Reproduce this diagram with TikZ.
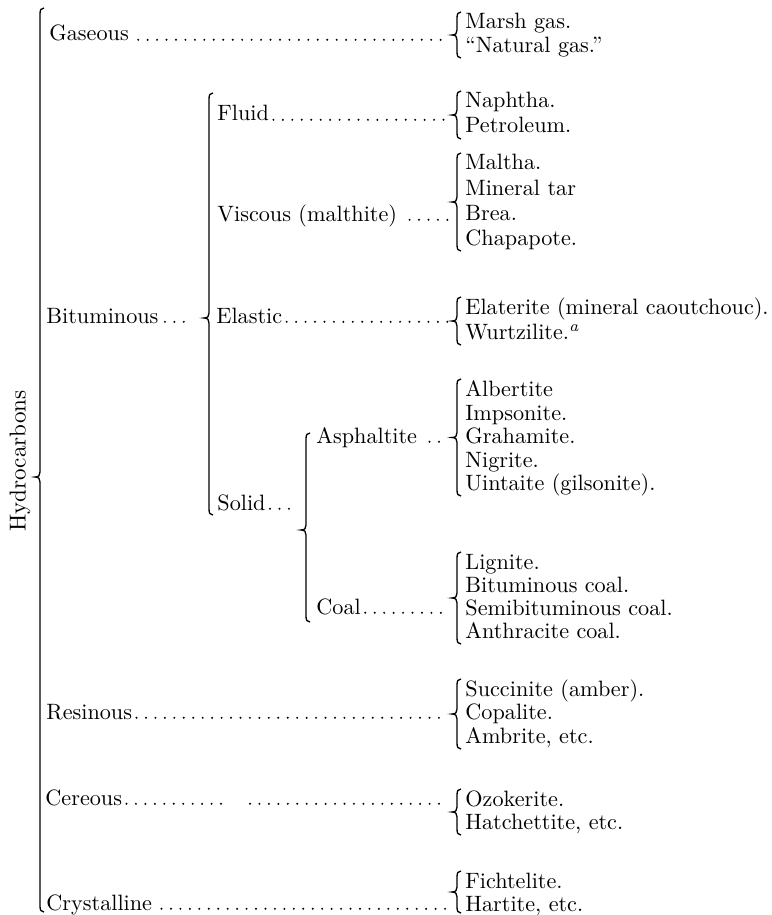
\documentclass[tikz,border=0pt]{standalone}
\usetikzlibrary{calc}
\newcommand\mybrace[5]{% name, x, top, tip, bottom
  \draw[brc] ({#2+4},#3) .. controls ({#2+1},#3) and (#2,{#3+2}) .. (#2,{#3+6})
    -- (#2,{#4-5}) .. controls (#2,{#4-2}) and ({#2-1},#4) .. ({#2-5},#4)
    .. controls ({#2-1},#4) and (#2,{#4+2}) .. (#2,{#4+5})
    -- (#2,{#5-6}) .. controls (#2,{#5-2}) and ({#2+1},#5) .. ({#2+4},#5);
  \coordinate (#1) at ({#2-5},#4);}
\newcommand\mylead[4]{% from node, to coordinate, start gap, end gap
  \draw[lead] ($(#1.base east)+(#3,-1.2)$) -- ($(#1.base east -| #2)+(-#4,-1.2)$);}
\begin{document}
\begin{tikzpicture}[x=0.455pt,y=-0.455pt,
  lbl/.style={anchor=base west,inner sep=0pt,font=\fontsize{10.1}{12}\selectfont},
  brc/.style={line width=0.6pt},
  lead/.style={line width=1.0pt,line cap=round,dash pattern=on 0pt off 4.3pt}]
\useasboundingbox (0,0) rectangle (771,915);
% left labels
\node[rotate=90,inner sep=0pt,font=\fontsize{10.5}{12}\selectfont] (hyd) at (20,461) {Hydrocarbons};
\node[lbl] (gas) at (49,41) {Gaseous};
\node[lbl] (flu) at (217,121) {Fluid};
\node[lbl] (vis) at (217,221) {Viscous (malthite)};
\node[lbl] (bit) at (46,323) {Bituminous};
\node[lbl] (ela) at (216,323) {Elastic};
\node[lbl] (asp) at (316,443) {Asphaltite};
\node[lbl] (sol) at (217,510) {Solid};
\node[lbl] (coa) at (316,614) {Coal};
\node[lbl] (res) at (46,719) {Resinous};
\node[lbl] (cer) at (45,805) {Cereous};
\node[lbl] (cry) at (46,910) {Crystalline};
% right column
\node[lbl] (m1) at (465,29) {Marsh gas.};
\node[lbl] (m2) at (465,52.5) {“Natural gas.”};
\node[lbl] (n1) at (465,108) {Naphtha.};
\node[lbl] (n2) at (465,132.5) {Petroleum.};
\node[lbl] (v1) at (465,170) {Maltha.};
\node[lbl] (v2) at (465,195) {Mineral tar};
\node[lbl] (v3) at (465,220) {Brea.};
\node[lbl] (v4) at (465,245) {Chapapote.};
\node[lbl] (e1) at (465,314) {Elaterite (mineral caoutchouc).};
\node[lbl] (e2) at (465,339) {Wurtzilite.\textsuperscript{\itshape a}};
\node[lbl] (a1) at (465,396) {Albertite};
\node[lbl] (a2) at (465,420) {Impsonite.};
\node[lbl] (a3) at (465,443) {Grahamite.};
\node[lbl] (a4) at (465,467) {Nigrite.};
\node[lbl] (a5) at (465,490) {Uintaite (gilsonite).};
\node[lbl] (c1) at (465,569) {Lignite.};
\node[lbl] (c2) at (465,592) {Bituminous coal.};
\node[lbl] (c3) at (465,615) {Semibituminous coal.};
\node[lbl] (c4) at (465,638) {Anthracite coal.};
\node[lbl] (r1) at (465,696) {Succinite (amber).};
\node[lbl] (r2) at (465,719) {Copalite.};
\node[lbl] (r3) at (465,743) {Ambrite, etc.};
\node[lbl] (o1) at (465,806) {Ozokerite.};
\node[lbl] (o2) at (465,829) {Hatchettite, etc.};
\node[lbl] (f1) at (465,888) {Fichtelite.};
\node[lbl] (f2) at (465,911) {Hartite, etc.};
% braces
\mybrace{tHyd}{40}{8}{477}{912}
\mybrace{tBit}{209}{93}{318}{515}
\mybrace{tSol}{306}{433}{530}{622}
\mybrace{tGas}{457}{12}{35}{58}
\mybrace{tFlu}{457}{91}{115}{139}
\mybrace{tVis}{457}{153}{202}{251}
\mybrace{tEla}{457}{297}{321}{345}
\mybrace{tAsp}{457}{379}{437.5}{496}
\mybrace{tCoa}{457}{552}{598}{644}
\mybrace{tRes}{457}{679}{714}{749}
\mybrace{tCer}{457}{789}{812}{835}
\mybrace{tCry}{457}{871}{892}{913}
% leaders
\mylead{gas}{tGas}{9}{4}
\mylead{flu}{tFlu}{4}{4}
\mylead{vis}{tVis}{12}{4}
\mylead{bit}{tBit}{6}{12}
\mylead{ela}{tEla}{4}{4}
\mylead{asp}{tAsp}{12}{5}
\mylead{sol}{tSol}{4}{10}
\mylead{coa}{tCoa}{4}{4}
\mylead{res}{tRes}{4}{4}
\coordinate (cgapA) at (222,805);
\coordinate (cgapB) at (250,805);
\mylead{cer}{cgapA}{4}{0}
\draw[lead] ($(cgapB)+(0,-1.2)$) -- ($(cgapB -| tCer)+(-4,-1.2)$);
\mylead{cry}{tCry}{9}{4}
\end{tikzpicture}
\end{document}
